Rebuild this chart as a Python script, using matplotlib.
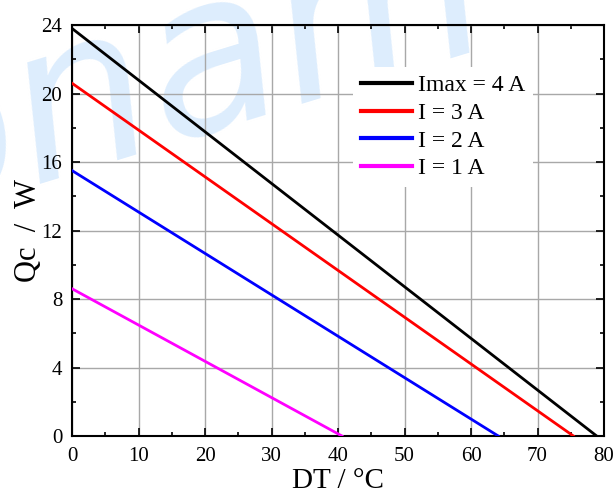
import matplotlib
matplotlib.use('Agg')
import matplotlib.pyplot as plt
from matplotlib.ticker import MultipleLocator

plt.rcParams['font.family'] = ['Liberation Serif', 'DejaVu Serif']

# end points of each line: Qc at DT = 0 and DT where Qc = 0
labels = ['Imax = 4 A', 'I = 3 A', 'I = 2 A', 'I = 1 A']
colors = ['black', 'red', 'blue', 'magenta']
qc_max = [23.8, 20.6, 15.5, 8.6]
dt_max = [78.9, 75.4, 64.1, 40.6]

fig = plt.figure(figsize=(6.15, 4.94), dpi=100)
ax = fig.add_axes([72 / 615, 58 / 494, 532 / 615, 411 / 494])

# faint watermark behind the plot
fig.text(-0.155, 0.55, 'onam', fontsize=158, color='#ddedfd', rotation=17,
         rotation_mode='anchor', ha='left', va='baseline',
         family='DejaVu Sans', style='italic', zorder=-1)
ax.patch.set_alpha(0)

for lab, c, q, d in zip(labels, colors, qc_max, dt_max):
    ax.plot([0, d], [q, 0], color=c, lw=2, label=lab, zorder=3)

ax.set_xlim(0, 80)
ax.set_ylim(0, 24)
ax.xaxis.set_major_locator(MultipleLocator(10))
ax.xaxis.set_minor_locator(MultipleLocator(5))
ax.yaxis.set_major_locator(MultipleLocator(4))
ax.yaxis.set_minor_locator(MultipleLocator(2))
ax.tick_params(which='both', direction='in', top=True, right=True, labelsize=15, width=1.2)
ax.tick_params(which='major', length=6)
ax.tick_params(which='minor', length=3)
ax.tick_params(axis='x', which='major', pad=8)
ax.tick_params(axis='y', which='major', pad=7)
ax.grid(True, which='major', color='#a8a8a8', lw=1)
for s in ax.spines.values():
    s.set_linewidth(1.5)

ax.set_xlabel('DT / °C', fontsize=21)
ax.set_ylabel('Qc  /  W', fontsize=22)
ax.xaxis.set_label_coords(0.5, -0.078)
ax.yaxis.set_label_coords(-0.055, 0.5)

leg = ax.legend(loc='upper left', bbox_to_anchor=(0.528, 0.898), frameon=True,
                fontsize=17, handlelength=2.16, handletextpad=0.25,
                labelspacing=0.26, borderpad=0.33, borderaxespad=0, fancybox=False)
leg.get_frame().set_edgecolor('none')
leg.get_frame().set_facecolor('white')
leg.get_frame().set_alpha(1)
for h in leg.legend_handles:
    h.set_linewidth(3)

plt.savefig('out.png', dpi=100)
plt.close()
